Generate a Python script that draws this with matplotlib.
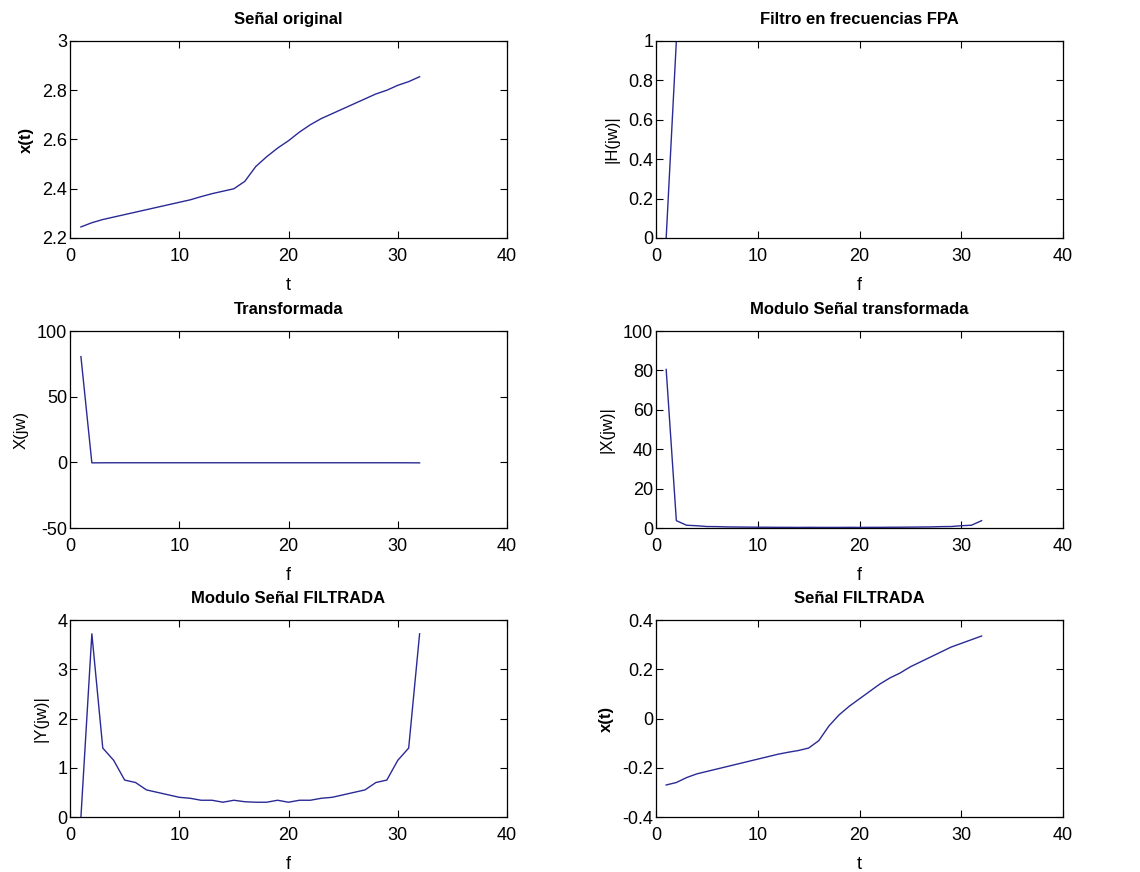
import matplotlib
matplotlib.use("Agg")
import matplotlib.pyplot as plt
from matplotlib import font_manager

t = list(range(1, 33))
f = list(range(1, 33))

x_original = [2.245, 2.262, 2.275, 2.285, 2.295, 2.305, 2.315, 2.325, 2.335, 2.345,
              2.355, 2.368, 2.38, 2.39, 2.40, 2.43, 2.49, 2.53, 2.565, 2.595,
              2.63, 2.66, 2.685, 2.705, 2.725, 2.745, 2.765, 2.785, 2.80, 2.82,
              2.835, 2.855]

H_filtro = [0.0] + [1.0] * 31

X_real = [80.5, -0.4, -0.35, -0.33, -0.32, -0.32, -0.32, -0.32, -0.32, -0.32,
          -0.32, -0.32, -0.32, -0.32, -0.32, -0.32, -0.32, -0.32, -0.32, -0.32,
          -0.32, -0.32, -0.32, -0.32, -0.32, -0.32, -0.32, -0.32, -0.33, -0.33,
          -0.35, -0.4]

X_mod = [80.5, 3.72, 1.4, 1.15, 0.75, 0.7, 0.55, 0.5, 0.45, 0.4,
         0.38, 0.34, 0.34, 0.3, 0.34, 0.31, 0.3, 0.3, 0.34, 0.3,
         0.34, 0.34, 0.38, 0.4, 0.45, 0.5, 0.55, 0.7, 0.75, 1.15,
         1.4, 3.72]

Y_mod = [0.0, 3.72, 1.4, 1.15, 0.75, 0.7, 0.55, 0.5, 0.45, 0.4,
         0.38, 0.34, 0.34, 0.3, 0.34, 0.31, 0.3, 0.3, 0.34, 0.3,
         0.34, 0.34, 0.38, 0.4, 0.45, 0.5, 0.55, 0.7, 0.75, 1.15,
         1.4, 3.72]

x_filtrada = [-0.27, -0.26, -0.24, -0.225, -0.215, -0.205, -0.195, -0.185, -0.175, -0.165,
              -0.155, -0.145, -0.137, -0.13, -0.12, -0.09, -0.03, 0.015, 0.05, 0.08,
              0.11, 0.14, 0.165, 0.185, 0.21, 0.23, 0.25, 0.27, 0.29, 0.305,
              0.32, 0.335]

names = {fe.name for fe in font_manager.fontManager.ttflist}
fam = ['Liberation Sans Narrow', 'Liberation Sans', 'DejaVu Sans'] if 'Liberation Sans Narrow' in names else ['Liberation Sans', 'DejaVu Sans']
plt.rcParams['font.family'] = fam

LINE = '#2a2a95'
W, Hh = 1140, 872
fig = plt.figure(figsize=(W / 100, Hh / 100), dpi=100)

def add_ax(left, top, right, bottom):
    return fig.add_axes([left / W, 1 - bottom / Hh, (right - left) / W, (bottom - top) / Hh])

cols = [(70, 507), (656, 1063)]
rows = [(41, 238), (331, 528), (620, 817)]

panels = [
    (0, 0, t, x_original, 'Señal original', 't', 'x(t)', (2.2, 3), [2.2, 2.4, 2.6, 2.8, 3], ['2.2', '2.4', '2.6', '2.8', '3'], True),
    (0, 1, f, H_filtro, 'Filtro en frecuencias FPA', 'f', '|H(jw)|', (0, 1), [0, 0.2, 0.4, 0.6, 0.8, 1], ['0', '0.2', '0.4', '0.6', '0.8', '1'], False),
    (1, 0, f, X_real, 'Transformada', 'f', 'X(jw)', (-50, 100), [-50, 0, 50, 100], ['-50', '0', '50', '100'], False),
    (1, 1, f, X_mod, 'Modulo Señal transformada', 'f', '|X(jw)|', (0, 100), [0, 20, 40, 60, 80, 100], ['0', '20', '40', '60', '80', '100'], False),
    (2, 0, f, Y_mod, 'Modulo Señal FILTRADA', 'f', '|Y(jw)|', (0, 4), [0, 1, 2, 3, 4], ['0', '1', '2', '3', '4'], False),
    (2, 1, t, x_filtrada, 'Señal FILTRADA', 't', 'x(t)', (-0.4, 0.4), [-0.4, -0.2, 0, 0.2, 0.4], ['-0.4', '-0.2', '0', '0.2', '0.4'], True),
]

for r, c, xs, ys, title, xl, yl, ylim, yt, ytl, ybold in panels:
    left, right = cols[c]
    top, bottom = rows[r]
    ax = add_ax(left, top, right, bottom)
    ax.plot(xs, ys, color=LINE, lw=1.0)
    ax.set_xlim(0, 40)
    ax.set_ylim(*ylim)
    ax.set_xticks([0, 10, 20, 30, 40])
    ax.set_xticklabels(['0', '10', '20', '30', '40'])
    ax.set_yticks(yt)
    ax.set_yticklabels(ytl)
    ax.tick_params(direction='in', length=5, width=0.8, top=True, right=True,
                   labelsize=13, colors='black')
    ax.tick_params(axis='x', pad=7)
    ax.tick_params(axis='y', pad=2)
    for s in ax.spines.values():
        s.set_linewidth(0.9)
    ax.set_title(title, fontsize=12, fontweight='bold', pad=12)
    ax.set_xlabel(xl, fontsize=13, labelpad=9)
    ax.set_ylabel(yl, fontsize=12, fontweight='bold' if ybold else 'normal', labelpad=6)

fig.savefig('out.png', dpi=100)
